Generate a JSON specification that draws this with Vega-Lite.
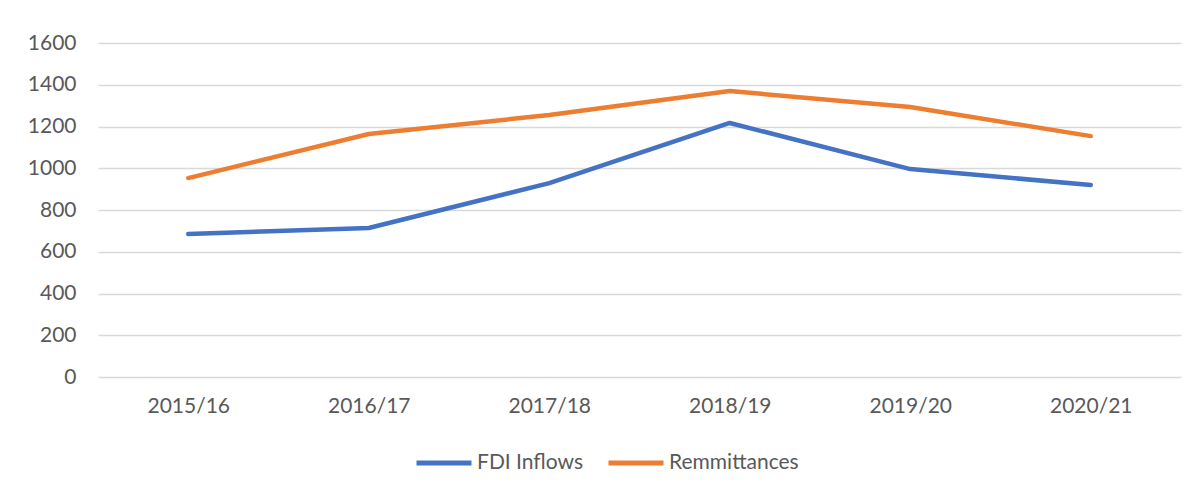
{
  "$schema": "https://vega.github.io/schema/vega-lite/v6.json",
  "autosize": {"type": "none"},
  "padding": {"left": 98, "top": 43, "right": 15, "bottom": 115},
  "width": 1083,
  "height": 334,
  "background": "white",
  "config": {
    "view": {"stroke": null},
    "font": "Lato",
    "axis": {"labelFont": "Lato", "labelFontSize": 21, "labelColor": "#595959", "title": null}
  },
  "data": {
    "values": [
      {"year": "2015/16", "series": "FDI Inflows", "value": 685},
      {"year": "2016/17", "series": "FDI Inflows", "value": 714},
      {"year": "2017/18", "series": "FDI Inflows", "value": 929},
      {"year": "2018/19", "series": "FDI Inflows", "value": 1217},
      {"year": "2019/20", "series": "FDI Inflows", "value": 996},
      {"year": "2020/21", "series": "FDI Inflows", "value": 920},
      {"year": "2015/16", "series": "Remmittances", "value": 953},
      {"year": "2016/17", "series": "Remmittances", "value": 1164},
      {"year": "2017/18", "series": "Remmittances", "value": 1255},
      {"year": "2018/19", "series": "Remmittances", "value": 1370},
      {"year": "2019/20", "series": "Remmittances", "value": 1293},
      {"year": "2020/21", "series": "Remmittances", "value": 1154}
    ]
  },
  "mark": {"type": "line", "strokeWidth": 4.5, "strokeCap": "round", "strokeJoin": "round"},
  "encoding": {
    "x": {
      "field": "year", "type": "ordinal",
      "scale": {"type": "point", "padding": 0.5},
      "axis": {"labelAngle": 0, "domain": false, "ticks": false, "grid": false, "labelPadding": 18}
    },
    "y": {
      "field": "value", "type": "quantitative",
      "scale": {"domain": [0, 1600], "nice": false},
      "axis": {
        "values": [0, 200, 400, 600, 800, 1000, 1200, 1400, 1600],
        "format": "d",
        "domain": false, "ticks": false, "grid": true,
        "gridColor": "#d9d9d9", "gridWidth": 1.5, "labelPadding": 22
      }
    },
    "color": {
      "field": "series", "type": "nominal",
      "scale": {"domain": ["FDI Inflows", "Remmittances"], "range": ["#4472C4", "#ED7D31"]},
      "legend": {
        "title": null, "orient": "none", "direction": "horizontal",
        "legendX": 316, "legendY": 390,
        "symbolType": "stroke", "symbolSize": 3025, "symbolStrokeWidth": 5,
        "labelFont": "Lato", "labelFontSize": 21, "labelColor": "#595959",
        "labelOffset": 3, "columnPadding": 14
      }
    }
  }
}
